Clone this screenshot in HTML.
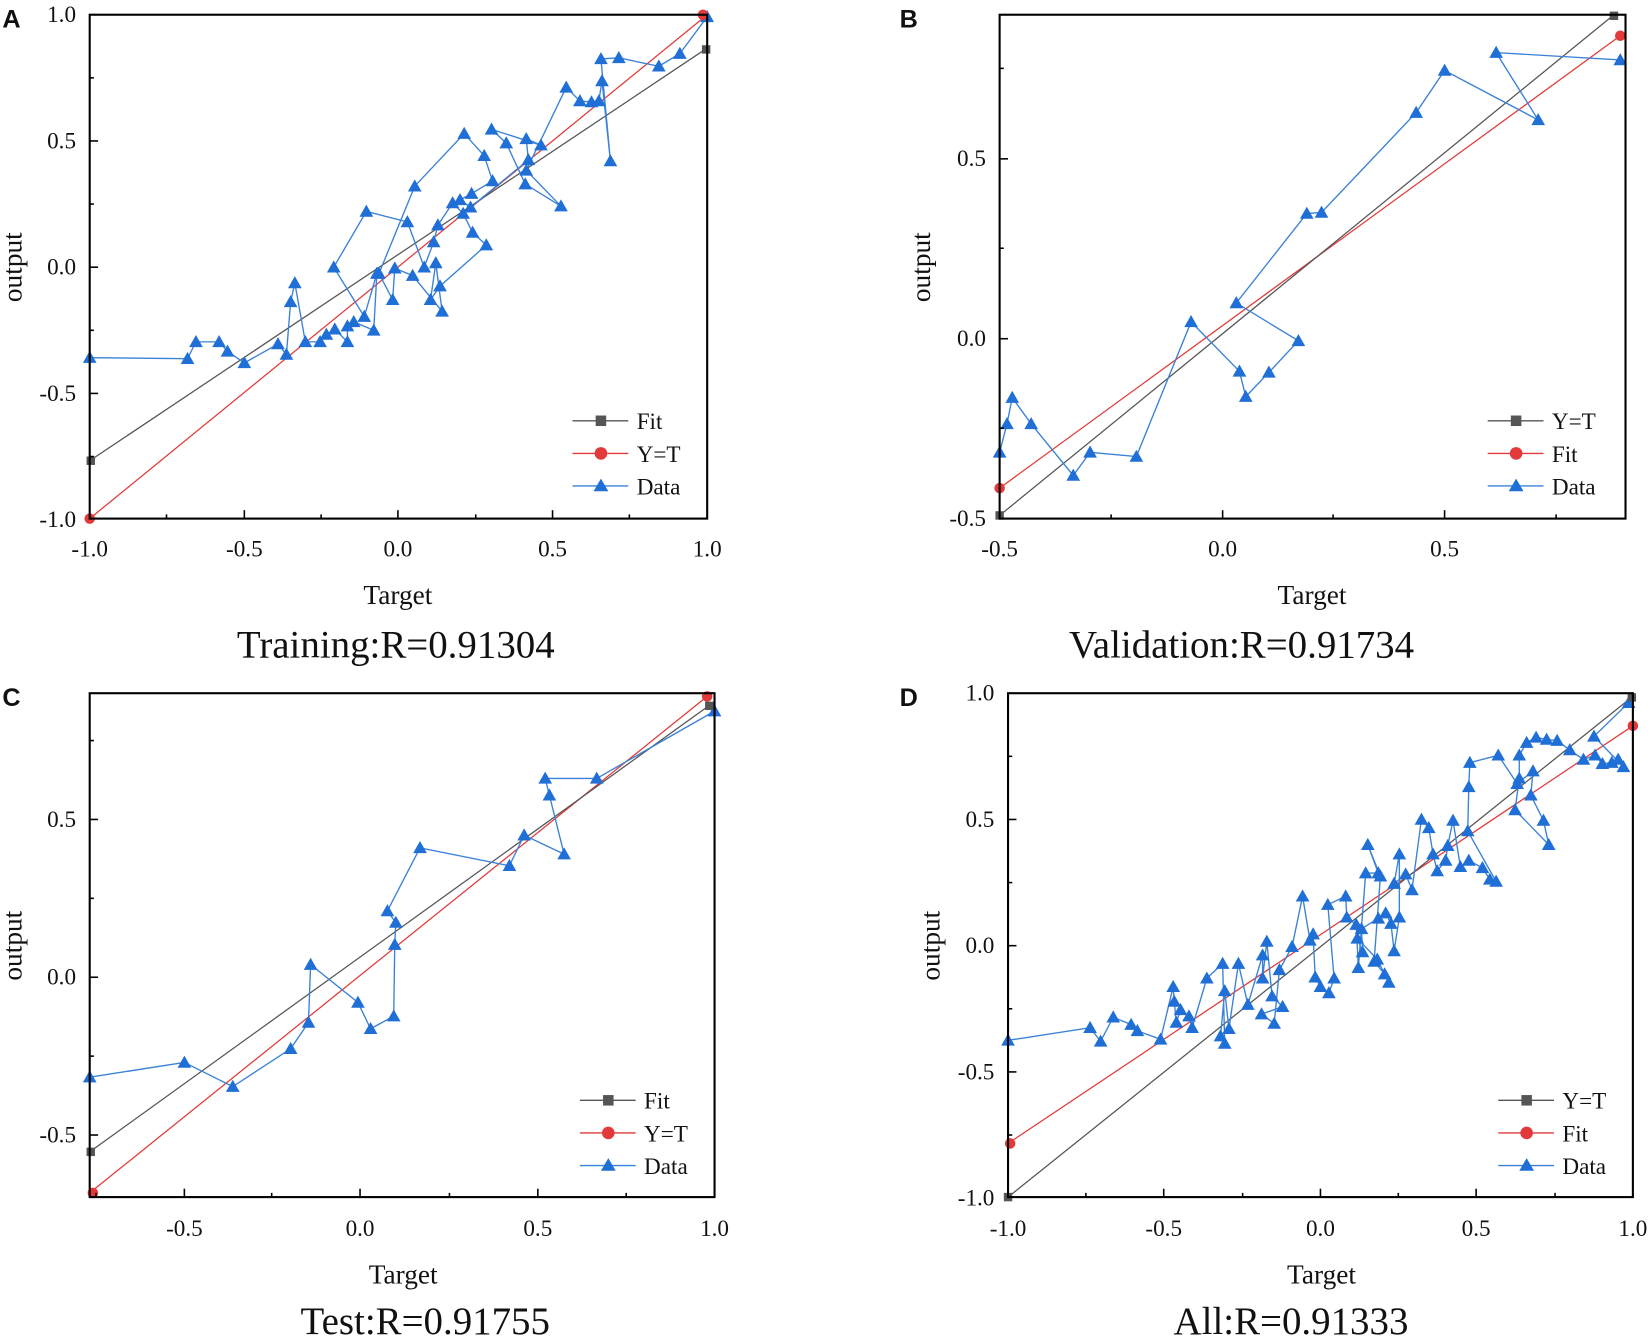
<!DOCTYPE html>
<html><head><meta charset="utf-8"><style>
html,body{margin:0;padding:0;background:#fff;}
svg{display:block;}
text{font-family:"Liberation Serif",serif;fill:#111;}
.tk{font-size:22px;}
.al{font-size:26px;}
.ti{font-size:37px;}
.pl{font-family:"Liberation Sans",sans-serif;font-weight:bold;font-size:24px;}
.ax{fill:none;stroke:#000;stroke-width:2;}
.data{fill:none;stroke:#3b82d6;stroke-width:1.3;marker-start:url(#tri);marker-mid:url(#tri);marker-end:url(#tri);}
</style></head><body>
<svg width="1650" height="1337" viewBox="0 0 1568 1271" xmlns="http://www.w3.org/2000/svg">
<defs>
<marker id="tri" viewBox="-7 -7 14 14" markerWidth="14" markerHeight="14" markerUnits="userSpaceOnUse" refX="0" refY="0"><polygon points="0,-6.5 6.5,5 -6.5,5" fill="#1f6fd6"/></marker>
</defs>

<!-- Panel A -->
<text class="pl" x="2" y="26">A</text>
<line x1="85" y1="493" x2="672" y2="14" stroke="#e23a3a" stroke-width="1.2"/>
<line x1="85" y1="438" x2="670" y2="47" stroke="#555" stroke-width="1.2"/>
<polyline class="data" points="85,340 178,341 186,325 208,325 216,334 232,345 264,327 272,337 276,287 280,269 290,325 304,325 310,318 318,313 330,325 330,310 336,306 355,314 358,260 346,301 317,254 348,201 387,211 403,254 412,230 416,214 430,193 440,203 449,221 462,233 418,272 409,285 414,250 420,296 392,262 375,255 373,285 360,260 394,177 441,127 460,148 468,172 448,184 437,190 447,197 502,152 500,132 514,138 467,123 481,136 499,175 533,196 500,162 538,83 551,96 562,97 569,96 572,77 580,153 571,56 588,55 626,63 646,51 672,16"/>
<rect x="82" y="434" width="8" height="8" fill="#555"/><rect x="667" y="43" width="8" height="8" fill="#555"/>
<circle cx="85" cy="493" r="5" fill="#e23a3a"/><circle cx="668" cy="14" r="5" fill="#e23a3a"/>
<rect class="ax" x="85" y="14" width="587" height="479"/>
<g stroke="#000" stroke-width="1.5">
<line x1="85" y1="493" x2="85" y2="485"/><line x1="158" y1="493" x2="158" y2="489"/><line x1="232" y1="493" x2="232" y2="485"/><line x1="305" y1="493" x2="305" y2="489"/><line x1="378" y1="493" x2="378" y2="485"/><line x1="452" y1="493" x2="452" y2="489"/><line x1="525" y1="493" x2="525" y2="485"/><line x1="598" y1="493" x2="598" y2="489"/>
<line x1="85" y1="14" x2="93" y2="14"/><line x1="85" y1="74" x2="89" y2="74"/><line x1="85" y1="134" x2="93" y2="134"/><line x1="85" y1="194" x2="89" y2="194"/><line x1="85" y1="254" x2="93" y2="254"/><line x1="85" y1="314" x2="89" y2="314"/><line x1="85" y1="374" x2="93" y2="374"/><line x1="85" y1="434" x2="89" y2="434"/>
</g>
<g class="tk" text-anchor="middle"><text x="85" y="529">-1.0</text><text x="232" y="529">-0.5</text><text x="378" y="529">0.0</text><text x="525" y="529">0.5</text><text x="672" y="529">1.0</text></g>
<g class="tk" text-anchor="end"><text x="72" y="21">1.0</text><text x="72" y="141">0.5</text><text x="72" y="261">0.0</text><text x="72" y="381">-0.5</text><text x="72" y="501">-1.0</text></g>
<text class="al" x="378" y="574" text-anchor="middle">Target</text>
<text class="al" transform="translate(20,254) rotate(-90)" text-anchor="middle">output</text>
<text class="ti" x="376" y="625" text-anchor="middle">Training:R=0.91304</text>
<g><line x1="544" y1="400" x2="597" y2="400" stroke="#555" stroke-width="1.3"/><rect x="566" y="395" width="10" height="10" fill="#555"/><text class="tk" x="605" y="408">Fit</text>
<line x1="544" y1="431" x2="597" y2="431" stroke="#e23a3a" stroke-width="1.3"/><circle cx="571" cy="431" r="6" fill="#e23a3a"/><text class="tk" x="605" y="439">Y=T</text>
<line x1="544" y1="462" x2="597" y2="462" stroke="#3b82d6" stroke-width="1.3"/><polygon points="571,455 578,467 564,467" fill="#1f6fd6"/><text class="tk" x="605" y="470">Data</text></g>

<!-- Panel B -->
<text class="pl" x="855" y="26">B</text>
<line x1="950" y1="464" x2="1540" y2="34" stroke="#e23a3a" stroke-width="1.2"/>
<line x1="950" y1="490" x2="1534" y2="14" stroke="#555" stroke-width="1.2"/>
<polyline class="data" points="950,430 957,403 962,378 980,403 1020,452 1036,430 1080,434 1132,306 1178,353 1184,377 1206,354 1234,324 1175,288 1242,203 1256,202 1346,107 1373,67 1462,114 1422,50 1540,57"/>
<rect x="946" y="486" width="8" height="8" fill="#555"/><rect x="1530" y="11" width="8" height="8" fill="#555"/>
<circle cx="950" cy="464" r="5" fill="#e23a3a"/><circle cx="1540" cy="34" r="5" fill="#e23a3a"/>
<rect class="ax" x="950" y="14" width="595" height="479"/>
<g stroke="#000" stroke-width="1.5">
<line x1="950" y1="493" x2="950" y2="485"/><line x1="1056" y1="493" x2="1056" y2="489"/><line x1="1162" y1="493" x2="1162" y2="485"/><line x1="1267" y1="493" x2="1267" y2="489"/><line x1="1373" y1="493" x2="1373" y2="485"/><line x1="1479" y1="493" x2="1479" y2="489"/>
<line x1="950" y1="151" x2="958" y2="151"/><line x1="950" y1="322" x2="958" y2="322"/><line x1="950" y1="493" x2="958" y2="493"/><line x1="950" y1="65" x2="954" y2="65"/><line x1="950" y1="236" x2="954" y2="236"/><line x1="950" y1="407" x2="954" y2="407"/>
</g>
<g class="tk" text-anchor="middle"><text x="950" y="529">-0.5</text><text x="1162" y="529">0.0</text><text x="1373" y="529">0.5</text></g>
<g class="tk" text-anchor="end"><text x="937" y="158">0.5</text><text x="937" y="329">0.0</text><text x="937" y="500">-0.5</text></g>
<text class="al" x="1247" y="574" text-anchor="middle">Target</text>
<text class="al" transform="translate(884,254) rotate(-90)" text-anchor="middle">output</text>
<text class="ti" x="1180" y="625" text-anchor="middle">Validation:R=0.91734</text>
<g><line x1="1414" y1="400" x2="1467" y2="400" stroke="#555" stroke-width="1.3"/><rect x="1436" y="395" width="10" height="10" fill="#555"/><text class="tk" x="1475" y="408">Y=T</text>
<line x1="1414" y1="431" x2="1467" y2="431" stroke="#e23a3a" stroke-width="1.3"/><circle cx="1441" cy="431" r="6" fill="#e23a3a"/><text class="tk" x="1475" y="439">Fit</text>
<line x1="1414" y1="462" x2="1467" y2="462" stroke="#3b82d6" stroke-width="1.3"/><polygon points="1441,455 1448,467 1434,467" fill="#1f6fd6"/><text class="tk" x="1475" y="470">Data</text></g>

<!-- Panel C -->
<text class="pl" x="2" y="671">C</text>
<line x1="85" y1="1134" x2="672" y2="662" stroke="#e23a3a" stroke-width="1.2"/>
<line x1="85" y1="1095" x2="679" y2="667" stroke="#555" stroke-width="1.2"/>
<polyline class="data" points="85,1024 175,1010 221,1033 276,997 293,972 295,917 340,953 352,978 374,966 375,898 376,877 368,866 399,806 484,823 498,794 536,812 522,756 518,740 567,740 679,676"/>
<rect x="82" y="1091" width="8" height="8" fill="#555"/><rect x="670" y="667" width="8" height="8" fill="#555"/>
<circle cx="88" cy="1134" r="5" fill="#e23a3a"/><circle cx="672" cy="662" r="5" fill="#e23a3a"/>
<rect class="ax" x="85" y="659" width="594" height="479"/>
<g stroke="#000" stroke-width="1.5">
<line x1="175" y1="1138" x2="175" y2="1130"/><line x1="342" y1="1138" x2="342" y2="1130"/><line x1="511" y1="1138" x2="511" y2="1130"/><line x1="258" y1="1138" x2="258" y2="1134"/><line x1="427" y1="1138" x2="427" y2="1134"/><line x1="595" y1="1138" x2="595" y2="1134"/><line x1="91" y1="1138" x2="91" y2="1134"/>
<line x1="85" y1="779" x2="93" y2="779"/><line x1="85" y1="929" x2="93" y2="929"/><line x1="85" y1="1079" x2="93" y2="1079"/><line x1="85" y1="704" x2="89" y2="704"/><line x1="85" y1="854" x2="89" y2="854"/><line x1="85" y1="1004" x2="89" y2="1004"/>
</g>
<g class="tk" text-anchor="middle"><text x="175" y="1175">-0.5</text><text x="342" y="1175">0.0</text><text x="511" y="1175">0.5</text><text x="679" y="1175">1.0</text></g>
<g class="tk" text-anchor="end"><text x="72" y="786">0.5</text><text x="72" y="936">0.0</text><text x="72" y="1086">-0.5</text></g>
<text class="al" x="383" y="1220" text-anchor="middle">Target</text>
<text class="al" transform="translate(20,899) rotate(-90)" text-anchor="middle">output</text>
<text class="ti" x="404" y="1268" text-anchor="middle">Test:R=0.91755</text>
<g><line x1="551" y1="1046" x2="604" y2="1046" stroke="#555" stroke-width="1.3"/><rect x="573" y="1041" width="10" height="10" fill="#555"/><text class="tk" x="612" y="1054">Fit</text>
<line x1="551" y1="1077" x2="604" y2="1077" stroke="#e23a3a" stroke-width="1.3"/><circle cx="578" cy="1077" r="6" fill="#e23a3a"/><text class="tk" x="612" y="1085">Y=T</text>
<line x1="551" y1="1108" x2="604" y2="1108" stroke="#3b82d6" stroke-width="1.3"/><polygon points="578,1101 585,1113 571,1113" fill="#1f6fd6"/><text class="tk" x="612" y="1116">Data</text></g>

<!-- Panel D -->
<text class="pl" x="855" y="671">D</text>
<line x1="958" y1="1087" x2="1552" y2="690" stroke="#e23a3a" stroke-width="1.2"/>
<line x1="958" y1="1138" x2="1552" y2="662" stroke="#555" stroke-width="1.2"/>
<polyline class="data" points="958,989 1036,977 1046,990 1058,967 1075,974 1081,980 1103,988 1115,938 1116,952 1118,972 1122,960 1130,966 1133,977 1147,930 1162,916 1164,992 1160,985 1164,942 1168,978 1177,916 1186,955 1200,908 1200,930 1204,895 1209,947 1219,957 1199,964 1211,973 1216,922 1228,900 1238,852 1245,894 1248,888 1250,929 1255,938 1263,944 1268,930 1262,860 1279,852 1280,872 1289,879 1291,920 1298,830 1310,830 1300,803 1312,833 1306,914 1316,926 1320,934 1309,912 1290,892 1295,905 1294,883 1310,873 1317,868 1322,878 1325,904 1330,872 1330,812 1325,840 1336,831 1342,846 1351,779 1358,787 1362,812 1366,828 1374,818 1376,804 1381,780 1388,824 1396,818 1409,825 1416,836 1422,838 1395,790 1396,748 1397,725 1424,718 1442,745 1457,733 1455,756 1467,780 1472,803 1440,770 1444,740 1444,718 1451,706 1460,701 1470,703 1480,704 1492,713 1505,722 1516,718 1523,726 1532,725 1538,722 1543,729 1515,700 1548,668"/>
<rect x="954" y="1134" width="8" height="8" fill="#555"/><rect x="1547" y="659" width="8" height="8" fill="#555"/>
<circle cx="960" cy="1087" r="5" fill="#e23a3a"/><circle cx="1552" cy="690" r="5" fill="#e23a3a"/>
<rect class="ax" x="958" y="659" width="594" height="479"/>
<g stroke="#000" stroke-width="1.5">
<line x1="958" y1="1138" x2="958" y2="1130"/><line x1="1032" y1="1138" x2="1032" y2="1134"/><line x1="1106" y1="1138" x2="1106" y2="1130"/><line x1="1181" y1="1138" x2="1181" y2="1134"/><line x1="1255" y1="1138" x2="1255" y2="1130"/><line x1="1329" y1="1138" x2="1329" y2="1134"/><line x1="1403" y1="1138" x2="1403" y2="1130"/><line x1="1478" y1="1138" x2="1478" y2="1134"/>
<line x1="958" y1="659" x2="966" y2="659"/><line x1="958" y1="779" x2="966" y2="779"/><line x1="958" y1="899" x2="966" y2="899"/><line x1="958" y1="1019" x2="966" y2="1019"/><line x1="958" y1="719" x2="962" y2="719"/><line x1="958" y1="839" x2="962" y2="839"/><line x1="958" y1="959" x2="962" y2="959"/><line x1="958" y1="1079" x2="962" y2="1079"/>
</g>
<g class="tk" text-anchor="middle"><text x="958" y="1175">-1.0</text><text x="1106" y="1175">-0.5</text><text x="1255" y="1175">0.0</text><text x="1403" y="1175">0.5</text><text x="1552" y="1175">1.0</text></g>
<g class="tk" text-anchor="end"><text x="945" y="666">1.0</text><text x="945" y="786">0.5</text><text x="945" y="906">0.0</text><text x="945" y="1026">-0.5</text><text x="945" y="1146">-1.0</text></g>
<text class="al" x="1256" y="1220" text-anchor="middle">Target</text>
<text class="al" transform="translate(893,899) rotate(-90)" text-anchor="middle">output</text>
<text class="ti" x="1227" y="1268" text-anchor="middle">All:R=0.91333</text>
<g><line x1="1424" y1="1046" x2="1477" y2="1046" stroke="#555" stroke-width="1.3"/><rect x="1446" y="1041" width="10" height="10" fill="#555"/><text class="tk" x="1485" y="1054">Y=T</text>
<line x1="1424" y1="1077" x2="1477" y2="1077" stroke="#e23a3a" stroke-width="1.3"/><circle cx="1451" cy="1077" r="6" fill="#e23a3a"/><text class="tk" x="1485" y="1085">Fit</text>
<line x1="1424" y1="1108" x2="1477" y2="1108" stroke="#3b82d6" stroke-width="1.3"/><polygon points="1451,1101 1458,1113 1444,1113" fill="#1f6fd6"/><text class="tk" x="1485" y="1116">Data</text></g>
</svg>
</body></html>
